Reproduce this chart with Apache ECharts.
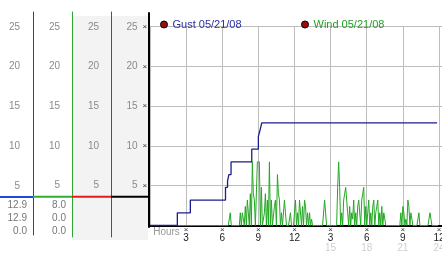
<!DOCTYPE html>
<html><head><meta charset="utf-8">
<script src="https://cdn.jsdelivr.net/npm/echarts@6/dist/echarts.min.js"></script>
<style>html,body{margin:0;padding:0;background:#fff}#c{width:442px;height:253px}</style>
</head><body><div id="c"></div>
<script>
// ---- data ----
const hourTicks   = [0, 3, 6, 9, 12, 15, 18, 21, 24];
const hourLabels  = ['Hours', '3', '6', '9', '12', '3', '6', '9', '12'];
const hourLabels2 = ['', '', '', '', '', '15', '18', '21', '24'];
const yTicks = [5, 10, 15, 20, 25];

const gustName = 'Gust 05/21/08';
const windName = 'Wind 05/21/08';

const gustTimes  = [0, 2.27, 3.35, 6.27, 6.44, 6.55, 6.73, 8.45, 9.0, 9.14, 9.28, 23.84];
const gustValues = [0, 1.6,  3.2,  4.8,  5.6,  6.4,  8.0,  9.6,  11.2, 12.0, 12.9, 12.9];

const windStepMinutes = 5;
const windValues = [
  0,0,0,0,0,0,0,0,0,0,0,0,
  0,0,0,0,0,0,0,0,0,0,0,0,
  0,0,0,0,0,0,0,0,0,0,0,0,
  0,0,0,0,0,0,0,0,0,0,0,0,
  0,0,0,0,0,0,0,0,0,0,0,0,
  0,0,0,0,0,0,0,0,0,0,0,0,
  0,0,0,0,0,0,0,0,1.6,0,0,0,
  0,0,0,0,0,0,1.6,0,1.6,1.6,0,2.4,
  0,3.2,1.6,0,4.0,0,8.0,4.0,3.2,0,0,8.0,
  8.0,8.0,0,4.8,0,0,1.6,4.0,0,3.2,0,8.0,
  0,3.2,0,0,2.4,3.2,0,6.4,4.0,3.2,0,1.6,
  0,0,3.2,1.6,0,0,0,0,1.6,0,0,0,
  0,3.2,0,1.6,0,3.2,3.2,0,2.4,0,3.2,2.4,
  0,1.6,0,1.6,0,0.8,0,0,0,0,0,0,
  0,0,0,0,0,0,3.2,1.6,0,0,0,0,
  0,0,0,0,0,0,0,4.8,8.0,4.8,0,1.6,
  0,3.2,4.0,4.8,3.2,1.6,0,2.4,0,1.6,0.8,3.2,
  0,1.6,0,2.4,3.2,3.2,0,3.2,4.0,4.8,0,2.4,
  0,1.6,3.2,0,1.6,0,2.4,3.2,0,1.6,2.4,3.2,
  0,1.6,0,2.4,0,1.6,0.8,0,0,0,0,0,
  0,0,0,0,0,0,0,0,0,0,1.6,0,
  2.4,1.6,0,0.8,0,3.2,2.4,0,1.6,0.8,0,0,
  0,0,0,0,1.6,0,0,0,0,0,0,0,
  0,0,0,1.6,0.8,0,0,0,0,0,0,0
];

const gustStats = ['12.9', '12.9', '0.0'];
const windStats = ['8.0', '0.0', '0.0'];
const levelValue = 3.6;

// ---- chart ----
const FONT = '"Liberation Sans", Arial, sans-serif';
const chart = echarts.init(document.getElementById('c'), null, {renderer: 'canvas'});

const cols = [
  {left: 0,   lineX: 33,    top: 12, bottom: 18, min: -1.19, max: 26.86, color: '#1f3fc4', level: '#1f48e0', margin: 13, w: 1},
  {left: 33,  lineX: 72,    top: 12, bottom: 16, min: -1.45, max: 26.86, color: '#2ea82e', level: '#2fb02f', margin: 12, w: 1},
  {left: 72,  lineX: 111,   top: 12, bottom: 16, min: -1.45, max: 26.86, color: '#b22a2a', level: '#e31c1c', margin: 12, w: 1},
  {left: 111, lineX: 149.2, top: 13, bottom: 26, min: -0.19, max: 26.73, color: '#000000', level: '#000000', margin: 2, w: 2}
];

const grids = [{left: 150, right: 0, top: 26.7, bottom: 27.5, outerBoundsMode: 'none'}];
const xAxes = [{
  type: 'value', gridIndex: 0, min: 0, max: 24.25, interval: 3,
  offset: 1,
  axisLine: {show: true, lineStyle: {color: '#000', width: 2}},
  axisTick: {show: false},
  splitLine: {show: true, lineStyle: {color: '#bdbdbd', width: 1}},
  axisLabel: {
    show: true, margin: 0, showMinLabel: true, showMaxLabel: true, hideOverlap: false,
    formatter: function (v) {
      const i = hourTicks.indexOf(Math.round(v * 1000) / 1000);
      if (i < 0) return '';
      if (i === 0) return '{h|' + hourLabels[0] + '}';
      let s = '{x|\u00d7}\n{n|' + hourLabels[i] + '}';
      if (hourLabels2[i]) s += '\n{g|' + hourLabels2[i] + '}';
      return s;
    },
    rich: {
      h: {fontFamily: FONT, fontSize: 10, color: '#999', lineHeight: 12, padding: [0, 0, 0, 33]},
      x: {fontFamily: FONT, fontSize: 8, color: '#333', lineHeight: 6},
      n: {fontFamily: FONT, fontSize: 10, color: '#222', lineHeight: 11},
      g: {fontFamily: FONT, fontSize: 10, color: '#cfcfcf', lineHeight: 10}
    }
  }
}];
const yAxes = [{
  type: 'value', gridIndex: 0, min: 0, max: 25, interval: 5,
  axisLine: {show: false}, axisTick: {show: false}, axisLabel: {show: false},
  splitLine: {show: true, lineStyle: {color: '#bdbdbd', width: 1}}
}];
const series = [];

cols.forEach(function (c, k) {
  const gi = k + 1;
  const gw = c.lineX - c.left;
  grids.push({left: c.left, width: gw, top: c.top, bottom: c.bottom, outerBoundsMode: 'none'});
  xAxes.push({type: 'value', gridIndex: gi, min: 0, max: 1, show: false});
  const isMain = (k === 3);
  yAxes.push({
    type: 'value', gridIndex: gi, position: 'left', offset: -gw, min: c.min, max: c.max,
    axisLine: {show: true, lineStyle: {color: c.color, width: c.w}},
    axisTick: {show: false},
    splitLine: {show: false},
    axisLabel: {
      show: true, inside: false, margin: c.margin,
      customValues: yTicks,
      formatter: isMain ? function (v) { return '{n|' + v + '}{x|\u00d7}'; } : function (v) { return String(v); },
      color: '#8a8a8a', fontFamily: FONT, fontSize: 10,
      rich: isMain ? {
        n: {fontFamily: FONT, fontSize: 10, color: '#8a8a8a'},
        x: {fontFamily: FONT, fontSize: 8, color: '#333', padding: [0, 0, 0, 5]}
      } : undefined
    }
  });
  series.push({
    type: 'line', xAxisIndex: gi, yAxisIndex: gi, silent: true, symbol: 'none',
    data: [[0, levelValue], [1, levelValue]],
    lineStyle: {color: c.level, width: 2}, z: 3
  });
});

series.push({
  name: windName, type: 'line', xAxisIndex: 0, yAxisIndex: 0, symbol: 'none',
  data: windValues.map(function (v, i) { return [i * windStepMinutes / 60, v]; }),
  lineStyle: {color: '#22a822', width: 1}, itemStyle: {color: '#22a822'}, z: 4
});
series.push({
  name: gustName, type: 'line', xAxisIndex: 0, yAxisIndex: 0, symbol: 'none', step: 'end',
  data: gustTimes.map(function (t, i) { return [t, gustValues[i]]; }),
  lineStyle: {color: '#1c1c8e', width: 1.3}, itemStyle: {color: '#1c1c8e'}, z: 5
});

const statText = [];
gustStats.forEach(function (s, i) {
  statText.push({type: 'text', x: 27, y: [205, 218.5, 231.5][i], z: 100,
    style: {text: s, align: 'right', verticalAlign: 'middle', fill: '#777', font: '10px ' + FONT}});
});
windStats.forEach(function (s, i) {
  statText.push({type: 'text', x: 66, y: [205, 218.5, 231.5][i], z: 100,
    style: {text: s, align: 'right', verticalAlign: 'middle', fill: '#777', font: '10px ' + FONT}});
});

const legendBase = {
  top: 14, itemWidth: 7, itemHeight: 7, icon: 'circle', selectedMode: false,
  textStyle: {fontFamily: FONT, fontSize: 11}
};

chart.setOption({
  backgroundColor: '#ffffff',
  animation: false,
  grid: grids,
  xAxis: xAxes,
  yAxis: yAxes,
  legend: [
    Object.assign({}, legendBase, {left: 155, data: [{name: gustName,
      itemStyle: {color: '#9a0c0c', borderColor: '#000', borderWidth: 1}, textStyle: {color: '#2a30a6'}}]}),
    Object.assign({}, legendBase, {left: 296, data: [{name: windName,
      itemStyle: {color: '#9a0c0c', borderColor: '#000', borderWidth: 1}, textStyle: {color: '#23a023'}}]})
  ],
  graphic: [
    {type: 'rect', z: -100, silent: true, shape: {x: 73, y: 16, width: 75, height: 224}, style: {fill: '#f3f3f3'}}
  ].concat(statText),
  series: series
});
</script>
</body></html>
